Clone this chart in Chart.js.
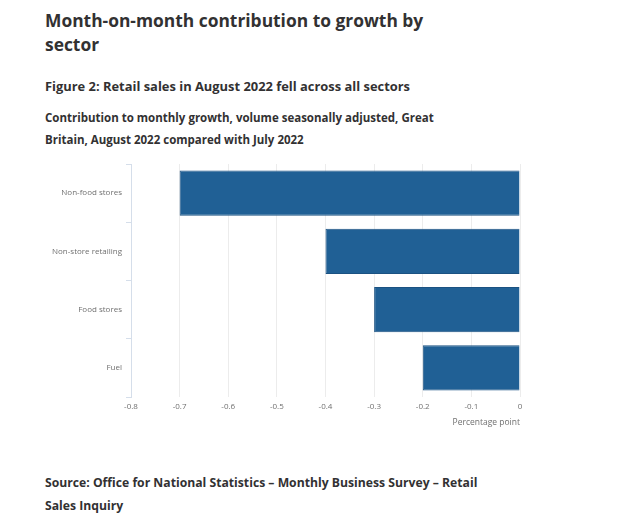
<!DOCTYPE html>
<html>
<head>
<meta charset="utf-8">
<script src="https://cdn.jsdelivr.net/npm/chart.js@4"></script>
<style>
  body { margin: 0; background: #fff; font-family: "Open Sans", sans-serif; color: #323132; }
  .t { position: absolute; left: 45px; font-weight: bold; white-space: nowrap; }
  #h1 { top: 8px; font-size: 17.4px; line-height: 24px; }
  #h2 { top: 76px; font-size: 12.9px; line-height: 20px; }
  #h3 { top: 107px; font-size: 11.5px; line-height: 22px; }
  #src { top: 471px; font-size: 12.2px; line-height: 23px; }
  #wrap { position: absolute; left: 0; top: 155px; width: 625px; height: 285px; }
</style>
</head>
<body>
<div class="t" id="h1">Month-on-month contribution to growth by<br>sector</div>
<div class="t" id="h2">Figure 2: Retail sales in August 2022 fell across all sectors</div>
<div class="t" id="h3">Contribution to monthly growth, volume seasonally adjusted, Great<br>Britain, August 2022 compared with July 2022</div>
<div class="t" id="src">Source: Office for National Statistics – Monthly Business Survey – Retail<br>Sales Inquiry</div>
<div id="wrap"><canvas id="chart"></canvas></div>
<script>
const sectors = ['Non-food stores', 'Non-store retailing', 'Food stores', 'Fuel']
const contribution = [-0.7, -0.4, -0.3, -0.2]
const xMin = -0.8
const xMax = 0

const ctx = document.getElementById('chart').getContext('2d')
const chart = new Chart(ctx, {
    type: 'bar',
    data: {
        labels: sectors,
        datasets: [{
            label: 'Contribution',
            data: contribution,
            backgroundColor: '#206095',
            borderColor: '#1b5282',
            borderWidth: 1,
            barPercentage: 0.78,
            categoryPercentage: 1
        }]
    },
    options: {
        indexAxis: 'y',
        responsive: true,
        maintainAspectRatio: false,
        animation: false,
        layout: {
            padding: { top: 9, right: 105, left: 0, bottom: 0 }
        },
        plugins: {
            legend: { display: false },
            tooltip: { enabled: false }
        },
        scales: {
            y: {
                afterFit: function (scale) { scale.width = 131 },
                border: { color: '#d5deea', width: 1 },
                grid: {
                    offset: true,
                    drawOnChartArea: false,
                    tickLength: 5,
                    color: '#d5deea'
                },
                ticks: {
                    padding: 4,
                    color: '#707070',
                    font: { family: 'Open Sans', size: 8 }
                }
            },
            x: {
                min: xMin,
                max: xMax,
                afterFit: function (scale) { scale.height = 43 },
                border: { display: false },
                grid: {
                    color: '#ececec',
                    drawTicks: false
                },
                ticks: {
                    stepSize: 0.1,
                    padding: 5,
                    color: '#707070',
                    font: { family: 'Open Sans', size: 8 },
                    callback: function (v) { return Math.round(v * 10) / 10 }
                },
                title: {
                    display: true,
                    text: 'Percentage point',
                    align: 'end',
                    color: '#707070',
                    font: { family: 'Open Sans', size: 8.5 },
                    padding: { top: 2, bottom: 12 }
                }
            }
        }
    }
})
</script>
</body>
</html>
